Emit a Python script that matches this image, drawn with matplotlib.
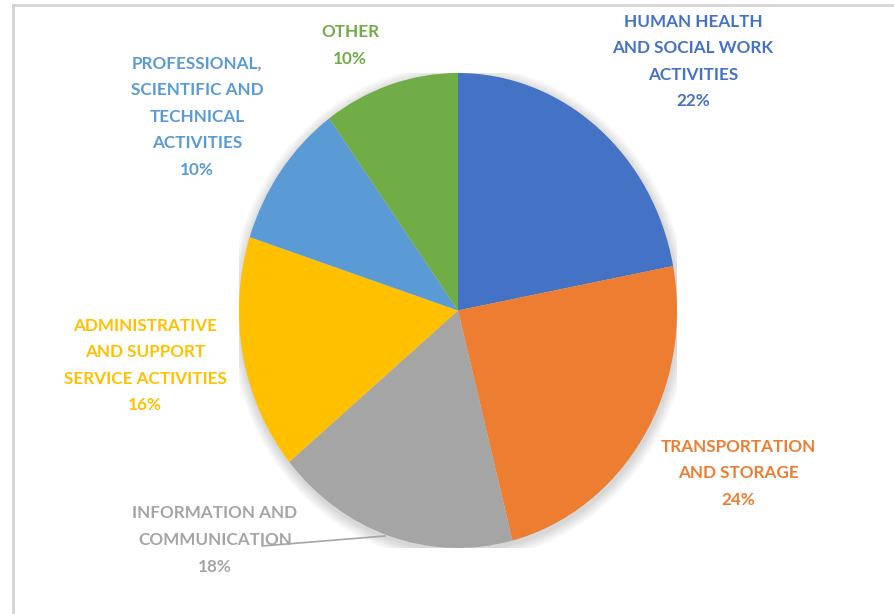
import matplotlib
matplotlib.use("Agg")
import matplotlib.pyplot as plt
from matplotlib.patches import Ellipse
from matplotlib.lines import Line2D

categories = ["HUMAN HEALTH\nAND SOCIAL WORK\nACTIVITIES",
              "TRANSPORTATION\nAND STORAGE",
              "INFORMATION AND\nCOMMUNICATION",
              "ADMINISTRATIVE\nAND SUPPORT\nSERVICE ACTIVITIES",
              "PROFESSIONAL,\nSCIENTIFIC AND\nTECHNICAL\nACTIVITIES",
              "OTHER"]
values = [22, 24, 18, 16, 10, 10]
colors = ["#4472C4", "#ED7D31", "#A5A5A5", "#FFC000", "#5B9BD5", "#70AD47"]

W, H = 895, 614
fig = plt.figure(figsize=(W / 100, H / 100), dpi=100)
fig.patch.set_facecolor("white")

def fx(x):
    return x / W

def fy(y):
    return 1 - y / H

# frame
fig.add_artist(Line2D([fx(13), 1.0], [fy(5), fy(5)], color="#D4D4D4", lw=2))
fig.add_artist(Line2D([fx(13), fx(13)], [fy(5), 0.0], color="#D4D4D4", lw=2))

left, right, top, bottom = 239, 677, 73, 548
ax = fig.add_axes([fx(left), fy(bottom), (right - left) / W, (bottom - top) / H])
ax.axis("off")

# soft shadow
for i in range(8):
    r = 1.0 + 0.006 * (i + 1)
    ax.add_patch(Ellipse((0.004, -0.012), 2 * r, 2 * r, color="#000000",
                         alpha=0.018, lw=0, zorder=0))

wedges, _ = ax.pie(values, colors=colors, startangle=90, counterclock=False,
                   wedgeprops=dict(linewidth=0))
for w in wedges:
    w.set_zorder(2)
ax.set_aspect("auto")
ax.set_xlim(-1, 1)
ax.set_ylim(-1, 1)

label_pos = [(693, 61.5), (738, 473.5), (215, 540), (145, 365.5), (197, 116.5), (350, 45.5)]
text_colors = ["#4472C4", "#ED7D31", "#A5A5A5", "#FFC000", "#5B9BD5", "#70AD47"]

for cat, v, (px, py), c in zip(categories, values, label_pos, text_colors):
    fig.text(fx(px), fy(py), f"{cat}\n{v}%", ha="center", va="center",
             multialignment="center", color=c, fontsize=12.3,
             fontfamily="Lato", fontweight="bold", linespacing=1.82)

# leader line for information slice
fig.add_artist(Line2D([fx(262), fx(385)], [fy(546), fy(536)], color="#A5A5A5", lw=1.2))

fig.savefig("out.png", dpi=100)
